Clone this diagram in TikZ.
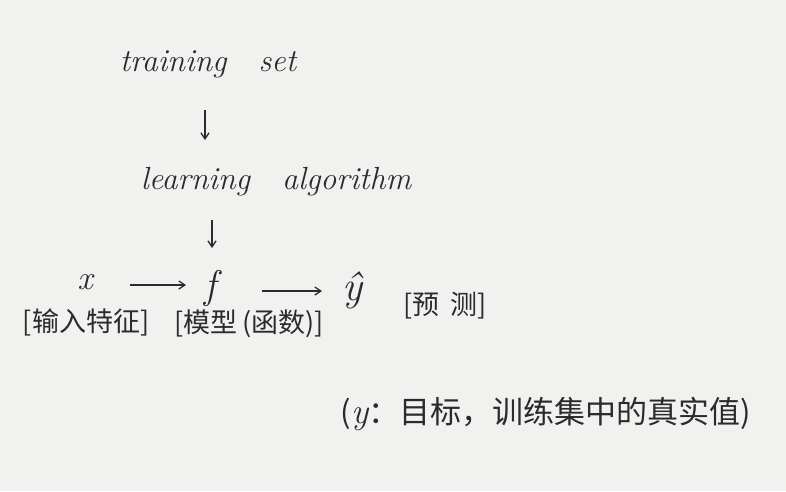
\documentclass[tikz,border=0pt]{standalone}
\usepackage{fontspec}
\newfontfamily\cjk{Noto Sans CJK SC}
\usetikzlibrary{arrows.meta}
\definecolor{paper}{HTML}{F1F1F0}
\definecolor{ink}{HTML}{2B2B2B}
\tikzset{
  lbl/.style={text=ink, inner sep=0pt, font=\fontsize{32}{36}\selectfont\itshape},
  cjklbl/.style={text=ink, inner sep=0pt, font=\fontsize{27}{31}\selectfont\cjk},
  arr/.style={draw=ink, line width=1.3pt, -{Straight Barb[length=6pt,width=8pt]}}
}
\begin{document}
\begin{tikzpicture}[x=1pt,y=-1pt]
\fill[paper] (0,0) rectangle (786,491);
\useasboundingbox (0,0) rectangle (786,491);
\node[lbl] (ts) at (208,64) {training\quad set};
\node[lbl] (la) at (276,182) {learning\quad algorithm};
\node[lbl, font=\fontsize{34}{38}\selectfont\itshape] (x) at (85,282) {x};
\node[lbl, font=\fontsize{40}{44}\selectfont\itshape] (f) at (210,288) {f};
\node[lbl, font=\fontsize{42}{46}\selectfont\itshape] (yh) at (352,290) {\^{y}};
\node[cjklbl] (pred) at (445,306) {[预\hspace{0.4em}测]};
\node[cjklbl] (feat) at (86,322) {[输入特征]};
\node[cjklbl] (model) at (249,324) {[模型\,(函数)]};
\node[cjklbl, font=\fontsize{31}{35}\selectfont\cjk] (note) at (546,414) {({\normalfont\fontsize{36}{40}\selectfont\itshape y}：目标，训练集中的真实值)};
\coordinate (a1s) at (205,110);
\coordinate (a1e) at (205,140);
\coordinate (a2s) at (212,220);
\coordinate (a2e) at (212,248);
\coordinate (a3s) at (130,285);
\coordinate (a3e) at (186,285);
\coordinate (a4s) at (262,291);
\coordinate (a4e) at (322,291);
\draw[arr] (a1s) -- (a1e);
\draw[arr] (a2s) -- (a2e);
\draw[arr] (a3s) -- (a3e);
\draw[arr] (a4s) -- (a4e);
\end{tikzpicture}
\end{document}
